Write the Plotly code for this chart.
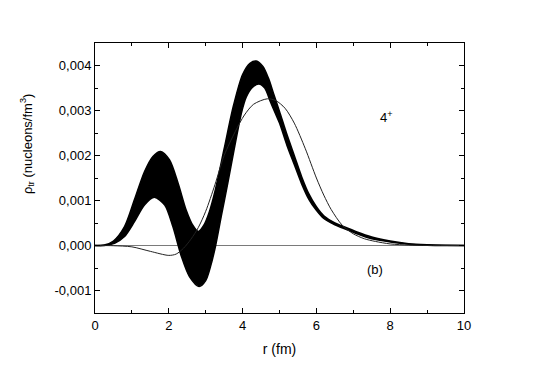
import plotly.graph_objects as go

# band (upper / lower envelope), values in 10^-3 nucleons/fm^3
r_upper = [0, 0.25, 0.5, 0.8, 1.07, 1.34, 1.57, 1.78, 2.02, 2.25, 2.47, 2.65,
           2.8, 2.95, 3.1, 3.25, 3.5, 3.75, 4.0, 4.2, 4.37, 4.55, 4.7, 4.85,
           5.0, 5.2, 5.4, 5.6, 5.8, 6.0, 6.2, 6.5, 6.8, 7.1, 7.5, 8.0, 8.5,
           9.0, 9.5, 10]
rho_upper = [0, 0.01, 0.1, 0.42, 1.02, 1.64, 1.98, 2.09, 1.90, 1.39, 0.79, 0.45,
             0.31, 0.45, 0.75, 1.2, 2.15, 3.1, 3.8, 4.05, 4.10, 3.98, 3.72, 3.35,
             2.98, 2.47, 2.0, 1.53, 1.14, 0.86, 0.66, 0.5, 0.4, 0.3, 0.19, 0.1,
             0.04, 0.015, 0.003, 0]

r_lower = [0, 0.25, 0.53, 0.8, 1.07, 1.34, 1.61, 1.89, 2.11, 2.34, 2.56, 2.82,
           3.0, 3.13, 3.27, 3.42, 3.6, 3.77, 3.97, 4.1, 4.25, 4.44, 4.6, 4.75,
           4.88, 5.0, 5.2, 5.4, 5.6, 5.8, 6.0, 6.2, 6.5, 6.8, 7.1, 7.5, 8.0,
           8.5, 9.0, 9.5, 10]
rho_lower = [0, 0.0, 0.05, 0.2, 0.53, 0.9, 1.07, 0.9, 0.42, -0.24, -0.69, -0.91,
             -0.78, -0.47, 0.0, 0.64, 1.39, 2.13, 2.95, 3.3, 3.5, 3.59, 3.5, 3.2,
             2.95, 2.72, 2.23, 1.8, 1.37, 1.02, 0.78, 0.6, 0.46, 0.36, 0.26, 0.15,
             0.08, 0.03, 0.008, 0.0, 0]

# thin curve
r_thin = [0, 0.5, 1.0, 1.5, 2.0, 2.2, 2.4, 2.6, 2.8, 3.0, 3.25, 3.5, 3.8, 4.05,
          4.3, 4.67, 4.9, 5.15, 5.4, 5.7, 6.0, 6.2, 6.4, 6.7, 7.0, 7.3, 7.6,
          8.0, 8.5, 9.0, 10]
rho_thin = [0, -0.005, -0.03, -0.13, -0.22, -0.19, -0.06, 0.14, 0.4, 0.76, 1.35,
            2.0, 2.53, 2.9, 3.14, 3.26, 3.22, 3.05, 2.72, 2.15, 1.5, 1.12, 0.8,
            0.45, 0.26, 0.15, 0.09, 0.035, 0.01, 0.0, 0]

y_tickvals = [-0.001, 0.0, 0.001, 0.002, 0.003, 0.004]
y_ticktext = ["-0,001", "0,000", "0,001", "0,002", "0,003", "0,004"]
y_minorvals = [-0.0015, -0.0005, 0.0005, 0.0015, 0.0025, 0.0035, 0.0045]

scale = 1e-3
FONT = "Liberation Sans, Arial, sans-serif"

fig = go.Figure()

fig.add_trace(go.Scatter(
    x=r_lower,
    y=[v * scale for v in rho_lower],
    mode="lines",
    line=dict(color="black", width=1.5, shape="spline", smoothing=0.8),
    showlegend=False,
))
fig.add_trace(go.Scatter(
    x=r_upper,
    y=[v * scale for v in rho_upper],
    mode="lines",
    fill="tonexty",
    fillcolor="black",
    line=dict(color="black", width=1.5, shape="spline", smoothing=0.8),
    showlegend=False,
))
fig.add_trace(go.Scatter(
    x=r_thin,
    y=[v * scale for v in rho_thin],
    mode="lines",
    line=dict(color="#222222", width=1, shape="spline", smoothing=0.8),
    showlegend=False,
))

fig.add_annotation(x=7.9, y=0.00285, text="4<sup>+</sup>", showarrow=False,
                   font=dict(size=13, color="black", family=FONT))
fig.add_annotation(x=7.58, y=-0.00054, text="(b)", showarrow=False,
                   font=dict(size=13, color="black", family=FONT))

# y title sits above the middle of the axis, as in the original
fig.add_annotation(
    xref="paper", yref="paper",
    x=-0.184, y=0.626,
    text="ρ<sub>tr</sub> (nucleons/fm<sup>3</sup>)",
    textangle=-90,
    showarrow=False,
    xanchor="center", yanchor="middle",
    font=dict(size=13, color="black", family=FONT),
)

# the page body adds an 8 px offset, so the figure is 8 px smaller
fig.update_layout(
    width=532,
    height=368,
    margin=dict(l=87, r=76, t=35, b=63),
    paper_bgcolor="white",
    plot_bgcolor="white",
    font=dict(family=FONT, size=13, color="black"),
)

fig.update_xaxes(
    range=[0, 10],
    dtick=2,
    tick0=0,
    ticks="inside",
    ticklen=5,
    tickcolor="black",
    minor=dict(dtick=1, ticks="inside", ticklen=3, tickcolor="black"),
    showline=True,
    linecolor="black",
    linewidth=1,
    mirror="ticks",
    showgrid=False,
    zeroline=False,
    automargin=False,
    title=dict(text="r (fm)", font=dict(size=14), standoff=12),
    tickfont=dict(size=13),
)

fig.update_yaxes(
    range=[-0.0015, 0.0045],
    tickmode="array",
    tickvals=y_tickvals,
    ticktext=y_ticktext,
    ticks="inside",
    ticklen=5,
    tickcolor="black",
    minor=dict(tickmode="array", tickvals=y_minorvals, ticks="inside",
               ticklen=3, tickcolor="black"),
    showline=True,
    linecolor="black",
    linewidth=1,
    mirror="ticks",
    showgrid=False,
    zeroline=True,
    zerolinecolor="#7a7a7a",
    zerolinewidth=1,
    automargin=False,
    tickfont=dict(size=13),
)

fig.write_html("out.html")
